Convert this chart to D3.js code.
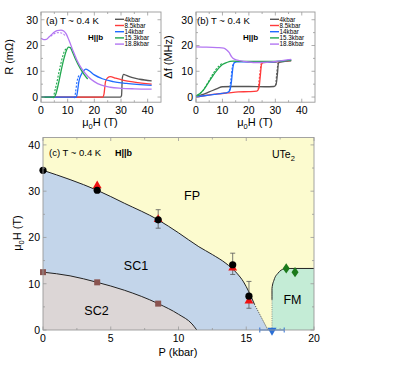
<!DOCTYPE html>
<html>
<head>
<meta charset="utf-8">
<script src="https://cdn.jsdelivr.net/npm/d3@7"></script>
<style>
  body { margin: 0; background: #fff; }
  svg { font-family: "Liberation Sans", Arial, sans-serif; }
</style>
</head>
<body>
<div id="chart"></div>
<script>
// legend / series names
const pressures = ["4kbar", "8.5kbar", "14kbar", "15.3kbar", "18.8kbar"];
const colors = ["#555555", "#ff3b3b", "#1f6bff", "#20a84e", "#b377f2"];

// (a) resistance vs field, [H (T), R (mOhm)]
const r4 = [[0,0],[29.8,0],[30.2,0.6],[30.5,7.4],[31,8.8],[32,8.4],[34,7.6],[37,6.9],[41.5,6.3]];
const r85 = [[0,0],[23.2,0],[23.6,1],[24.2,6],[25,7.5],[26,7.9],[28,7.3],[31,6.5],[35,5.8],[41.5,5.0]];
const r14 = [[0,0],[13.2,0],[13.6,1.5],[14.2,6],[15,8.6],[16,10.2],[16.8,10.8],[18,10.2],[20,8.6],[23,7.1],[27,6.0],[32,5.3],[41.5,4.5]];
const r153 = [[0,0],[5,0],[5.5,1],[6.5,5],[7.5,10],[8.5,14.5],[9.5,18],[10.3,19.4],[11,19.2],[12,17],[13,14.6],[14.5,11.5],[16,9],[17.5,7]];
const r188 = [[0,22.8],[1,22.3],[2,22.4],[3,23.3],[4.5,24.8],[6,25.8],[7.5,26.0],[8.5,25.6],[9.5,24.4],[10.5,22],[12,18],[13.5,14.3],[15.2,11.1],[17.7,7.9],[20,6.0],[22.7,4.6],[26,3.8],[30,3.4],[35,3.2],[41.5,3.1]];
const r153d = [[5,0],[5.3,1.5],[6.2,5.5],[7.2,10.5],[8.2,15],[9.2,18.3],[10,19.3]];
const r14d = [[12.9,0],[13.3,2],[13.9,6.5],[14.6,8.8]];
const r188d = [[4,24],[5.5,25],[7,25.4],[8.5,25.1],[9.5,24]];

// (b) frequency shift vs field, [H (T), df (MHz)]
const f4 = [[0,0.2],[2,0.8],[5,2],[8,3.3],[10,4],[14,4.1],[20,4.1],[26,4.0],[29.5,4.1],[30.3,5],[30.8,9],[31.2,13.2],[32,13.6],[36,14.0]];
const f85 = [[0,0],[3,0.5],[8,1.2],[12,1.6],[16,2],[20,2.1],[23,2.3],[23.8,3.5],[24.3,8],[24.8,12.8],[25.5,13.4],[30,13.6],[36,14.2]];
const f14 = [[0,0.1],[3,0.5],[7,1],[10,1.4],[12,1.8],[12.8,2.6],[13.4,6],[13.9,11],[14.4,13.2],[15.5,13.7],[20,13.6],[25,13.5],[30,13.7],[36,14.4]];
const f153 = [[0,0.5],[1.5,1.4],[3,3],[4.5,5.3],[6.5,8.4],[8.5,11.1],[10,12.6],[11.6,13.4],[14,13.9],[20,13.8],[30,13.8],[36,14.3]];
const f188 = [[0,19.5],[4,19.4],[8,19.2],[10.5,19],[11.5,18.4],[12.5,17.3],[13.5,15.6],[14.5,14.7],[16.6,14.1],[20,13.6],[23,13.4],[27,13.5],[31,13.9],[36,14.6]];
const f153d = [[1,0.5],[3,2.5],[5,5.8],[7,9.3],[9,12],[10.5,13.2]];
const f14d = [[13,2.5],[13.6,7],[14.1,11.5],[14.6,13.3]];
const f85d = [[23.9,3],[24.5,9],[25,13]];
const f4d = [[30.5,4.5],[31,10],[31.4,13.3]];

// (c) phase diagram, P (kbar) vs H (T)
const hcP = [0, 4, 8.5, 14, 15.2];
const hcH = [34.5, 30.2, 23.8, 14.1, 7.3];
const hcErr = [null, null, [22, 26], [12, 16.6], [4.7, 10.5]];
const triP = [4, 8.5, 14, 15.2];
const triH = [31.2, 23.9, 13.4, 6.3];
const sqP = [0, 4, 8.5];
const sqH = [12.5, 10.3, 5.7];
const dmP = [17.95, 18.6];
const dmH = [13.3, 12.5];
const fmP = 16.9, fmErr = [16.0, 17.8];
const sc1Line = [[0,34.5],[2,32.5],[4,30.2],[6,27.4],[8.5,23.8],[10,21],[11.5,18],[12.5,16.3],[13.5,14.4],[14.3,12.3],[14.8,10.4],[15.2,8.2],[15.6,5.6]];
const sc1Dot = [[15.6,5.6],[16.1,2.8],[16.6,0]];
const sc2Line = [[0,12.5],[2,11.7],[4,10.3],[6,8.6],[8.5,5.7],[10,3.4],[11,1.3],[11.35,0]];
const fmLine = [[16.9,6.5],[16.9,9],[17.05,10.8],[17.35,12.3],[17.8,13.2],[18.3,13.3],[20,13.3]];
const fmDot = [[16.9,0],[16.9,6.5]];

const svg = d3.select("#chart").append("svg")
  .attr("width", 393).attr("height", 367);

const frameColor = "#9a9a9a";
const fs = 10.5;

function frame(x, y, xt, yt, xm, ym) {
  const g = svg.append("g");
  const [x0, x1] = x.range(), [y0, y1] = y.range();
  g.append("rect").attr("x", x0).attr("y", y1).attr("width", x1 - x0).attr("height", y0 - y1)
    .attr("fill", "none").attr("stroke", frameColor).attr("stroke-width", 0.9);
  const tk = (vals, len, isX) => vals.forEach(v => {
    if (isX) {
      g.append("line").attr("x1", x(v)).attr("x2", x(v)).attr("y1", y0).attr("y2", y0 - len).attr("stroke", frameColor).attr("stroke-width", 0.8);
      g.append("line").attr("x1", x(v)).attr("x2", x(v)).attr("y1", y1).attr("y2", y1 + len).attr("stroke", frameColor).attr("stroke-width", 0.8);
    } else {
      g.append("line").attr("y1", y(v)).attr("y2", y(v)).attr("x1", x0).attr("x2", x0 + len).attr("stroke", frameColor).attr("stroke-width", 0.8);
      g.append("line").attr("y1", y(v)).attr("y2", y(v)).attr("x1", x1).attr("x2", x1 - len).attr("stroke", frameColor).attr("stroke-width", 0.8);
    }
  });
  tk(xt, 3.5, true); tk(xm, 2, true); tk(yt, 3.5, false); tk(ym, 2, false);
  g.selectAll(".xl").data(xt).join("text")
    .attr("x", d => x(d)).attr("y", y0 + 12).attr("text-anchor", "middle")
    .attr("font-size", fs).text(d => d);
  g.selectAll(".yl").data(yt).join("text")
    .attr("x", x0 - 3).attr("y", d => y(d) + 3.8).attr("text-anchor", "end")
    .attr("font-size", fs).text(d => d);
  return g;
}

function muLabel(g, x, y) {
  const t = g.append("text").attr("x", x).attr("y", y).attr("text-anchor", "middle").attr("font-size", 11);
  t.append("tspan").text("μ");
  t.append("tspan").attr("font-size", 7.5).attr("dy", 2.5).text("0");
  t.append("tspan").attr("dy", -2.5).text("H (T)");
  return t;
}

function legend(x0, y0) {
  pressures.forEach((p, i) => {
    const yy = y0 + i * 6.2;
    svg.append("line").attr("x1", x0).attr("x2", x0 + 9).attr("y1", yy).attr("y2", yy)
      .attr("stroke", colors[i]).attr("stroke-width", 1.4);
    svg.append("text").attr("x", x0 + 9.5).attr("y", yy + 2.2).attr("font-size", 6.3).text(p);
  });
}

// ---------- panel (a)
const xa = d3.scaleLinear([0, 45], [41, 161]);
const ya = d3.scaleLinear([-2, 33], [102.2, 12]);
const line = (x, y) => d3.line().x(d => x(d[0])).y(d => y(d[1])).curve(d3.curveMonotoneX);

const ga = svg.append("g");
const serA = [r4, r85, r14, r153, r188];
serA.forEach((s, i) => ga.append("path").attr("d", line(xa, ya)(s))
  .attr("fill", "none").attr("stroke", colors[i]).attr("stroke-width", 1.3));
[[r14d, 2], [r153d, 3], [r188d, 4]].forEach(([s, i]) => ga.append("path").attr("d", line(xa, ya)(s))
  .attr("fill", "none").attr("stroke", colors[i]).attr("stroke-width", 1.1).attr("stroke-dasharray", "2,1.5")
  .attr("transform", "translate(-1,1)"));
frame(xa, ya, [0, 10, 20, 30, 40], [0, 10, 20, 30], [5, 15, 25, 35], [5, 15, 25]);
legend(115, 19.3);
svg.append("text").attr("x", 46).attr("y", 23.5).attr("font-size", 9.5).text("(a) T ~ 0.4 K");
svg.append("text").attr("x", 88).attr("y", 40).attr("font-size", 8).attr("font-weight", "bold").text("H||b");
svg.append("text").attr("transform", "translate(13,57) rotate(-90)").attr("text-anchor", "middle")
  .attr("font-size", 11).text("R (mΩ)");
muLabel(svg, 100, 126);

// ---------- panel (b)
const xb = d3.scaleLinear([0, 45], [196, 315]);
const yb = d3.scaleLinear([-2, 33], [102.2, 12]);
const gb = svg.append("g");
const serB = [f4, f85, f14, f153, f188];
serB.forEach((s, i) => gb.append("path").attr("d", line(xb, yb)(s))
  .attr("fill", "none").attr("stroke", colors[i]).attr("stroke-width", 1.3));
[[f4d, 0], [f85d, 1], [f14d, 2], [f153d, 3]].forEach(([s, i]) => gb.append("path").attr("d", line(xb, yb)(s))
  .attr("fill", "none").attr("stroke", colors[i]).attr("stroke-width", 1.1).attr("stroke-dasharray", "2,1.5")
  .attr("transform", "translate(-1,0)"));
frame(xb, yb, [0, 10, 20, 30, 40], [0, 10, 20, 30], [5, 15, 25, 35], [5, 15, 25]);
legend(270, 19.3);
svg.append("text").attr("x", 197).attr("y", 23.5).attr("font-size", 9.5).text("(b) T ~ 0.4 K");
svg.append("text").attr("x", 243).attr("y", 40).attr("font-size", 8).attr("font-weight", "bold").text("H||b");
svg.append("text").attr("transform", "translate(172,57) rotate(-90)").attr("text-anchor", "middle")
  .attr("font-size", 11).text("Δf (MHz)");
muLabel(svg, 255, 126);

// ---------- panel (c)
const xc = d3.scaleLinear([0, 20], [43, 314]);
const yc = d3.scaleLinear([0, 41.6], [330, 137.5]);
const gc = svg.append("g");
const ln = d3.line().x(d => xc(d[0])).y(d => yc(d[1])).curve(d3.curveMonotoneX);
const lnL = d3.line().x(d => xc(d[0])).y(d => yc(d[1])).curve(d3.curveLinear);

gc.append("rect").attr("x", xc(0)).attr("y", yc(41.6)).attr("width", xc(20) - xc(0)).attr("height", yc(0) - yc(41.6))
  .attr("fill", "#fcfbcf");
// SC1 region
const sc1Area = sc1Line.concat(sc1Dot.slice(1));
gc.append("path").attr("d", "M" + xc(0) + "," + yc(0) + ln(sc1Line).replace(/^M/, "L") + "L" + xc(16.1) + "," + yc(2.8) + "L" + xc(16.6) + "," + yc(0) + "Z")
  .attr("fill", "#c3d5ea");
// SC2 region
gc.append("path").attr("d", "M" + xc(0) + "," + yc(0) + ln(sc2Line).replace(/^M/, "L") + "Z")
  .attr("fill", "#dcd6d6");
// FM region
gc.append("path").attr("d", "M" + xc(16.9) + "," + yc(0) + ln(fmLine).replace(/^M/, "L") + "L" + xc(20) + "," + yc(0) + "Z")
  .attr("fill", "#c4ecd6");

// boundaries
gc.append("path").attr("d", ln(sc1Line)).attr("fill", "none").attr("stroke", "#222").attr("stroke-width", 1);
gc.append("path").attr("d", lnL(sc1Dot)).attr("fill", "none").attr("stroke", "#333").attr("stroke-width", 0.9).attr("stroke-dasharray", "1,1.2");
gc.append("path").attr("d", ln(sc2Line)).attr("fill", "none").attr("stroke", "#222").attr("stroke-width", 1);
gc.append("path").attr("d", ln(fmLine)).attr("fill", "none").attr("stroke", "#222").attr("stroke-width", 1);
gc.append("path").attr("d", lnL(fmDot)).attr("fill", "none").attr("stroke", "#777").attr("stroke-width", 0.8).attr("stroke-dasharray", "1,1.2");

frame(xc, yc, [0, 5, 10, 15, 20], [0, 10, 20, 30, 40], [2.5, 7.5, 12.5, 17.5], [5, 15, 25, 35]);

// error bars
hcErr.forEach((e, i) => {
  if (!e) return;
  const x = xc(hcP[i]);
  gc.append("line").attr("x1", x).attr("x2", x).attr("y1", yc(e[0])).attr("y2", yc(e[1])).attr("stroke", "#555").attr("stroke-width", 0.8);
  [e[0], e[1]].forEach(v => gc.append("line").attr("x1", x - 2.5).attr("x2", x + 2.5).attr("y1", yc(v)).attr("y2", yc(v)).attr("stroke", "#555").attr("stroke-width", 0.8));
});
// red triangles
const sym = d3.symbol();
triP.forEach((p, i) => gc.append("path").attr("d", sym.type(d3.symbolTriangle).size(34)())
  .attr("transform", `translate(${xc(p)},${yc(triH[i])})`).attr("fill", "#ee1111"));
// black circles
hcP.forEach((p, i) => gc.append("circle").attr("cx", xc(p)).attr("cy", yc(hcH[i])).attr("r", 3.6).attr("fill", "#000"));
// squares
sqP.forEach((p, i) => gc.append("rect").attr("x", xc(p) - 3).attr("y", yc(sqH[i]) - 3).attr("width", 6).attr("height", 6).attr("fill", "#8a5450"));
// diamonds
dmP.forEach((p, i) => gc.append("path").attr("d", sym.type(d3.symbolDiamond).size(30)())
  .attr("transform", `translate(${xc(p)},${yc(dmH[i])}) scale(1.2,1)`).attr("fill", "#1b7a1b"));
// FM onset at zero field
gc.append("line").attr("x1", xc(fmErr[0])).attr("x2", xc(fmErr[1])).attr("y1", yc(0)).attr("y2", yc(0)).attr("stroke", "#2a6fd6").attr("stroke-width", 1);
fmErr.forEach(v => gc.append("line").attr("x1", xc(v)).attr("x2", xc(v)).attr("y1", yc(0) - 2.5).attr("y2", yc(0) + 2.5).attr("stroke", "#2a6fd6").attr("stroke-width", 1));
gc.append("path").attr("d", sym.type(d3.symbolTriangle).size(36)())
  .attr("transform", `translate(${xc(fmP)},${yc(0) + 0.5}) rotate(180)`).attr("fill", "#2a6fd6");

// labels
const lbl = (t, x, y, s) => svg.append("text").attr("x", x).attr("y", y).attr("font-size", s).attr("text-anchor", "middle").text(t);
lbl("FP", 192, 200, 12.5);
lbl("SC1", 136, 270, 12.5);
lbl("SC2", 96.5, 315, 12.5);
lbl("FM", 292.5, 304, 12.5);
const ut = svg.append("text").attr("x", 272).attr("y", 158).attr("font-size", 10.5);
ut.append("tspan").text("UTe");
ut.append("tspan").attr("font-size", 7.5).attr("dy", 2.5).text("2");
svg.append("text").attr("x", 49).attr("y", 155.5).attr("font-size", 9.5).text("(c) T ~ 0.4 K");
svg.append("text").attr("x", 115).attr("y", 155.5).attr("font-size", 9).attr("font-weight", "bold").text("H||b");
muLabel(svg, 0, 0).attr("transform", "translate(21,233) rotate(-90)");
svg.append("text").attr("x", 178).attr("y", 356).attr("text-anchor", "middle").attr("font-size", 11).text("P (kbar)");
</script>
</body>
</html>
